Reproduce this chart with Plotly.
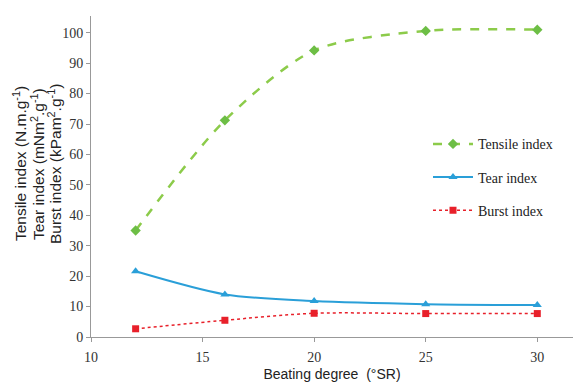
import plotly.graph_objects as go

beating = [12, 16, 20, 25, 30]
tensile = [35.0, 71.2, 94.2, 100.6, 101.0]
tear = [21.6, 14.0, 11.8, 10.8, 10.5]
burst = [2.7, 5.5, 7.8, 7.7, 7.7]
ytitle_lines = ["Tensile index (N.m.g<sup>-1</sup>)",
                "Tear index (mNm<sup>2</sup>.g<sup>-1</sup>)",
                "Burst index (kPam<sup>2</sup>.g<sup>-1</sup>)"]

fig = go.Figure()
fig.add_trace(go.Scatter(x=beating, y=tensile, name="Tensile index", mode="lines+markers", legendgroup="a",
                         line=dict(color="#8CCB4A", width=2.5, dash="dash", shape="spline", smoothing=0.8),
                         marker=dict(symbol="diamond", size=8, color="#6DBE45")))
fig.add_trace(go.Scatter(x=beating, y=tear, name="Tear index", mode="lines+markers", legendgroup="b",
                         line=dict(color="#2A9FD8", width=2, shape="spline", smoothing=0.8),
                         marker=dict(symbol="triangle-up", size=8, color="#2A9FD8")))
fig.add_trace(go.Scatter(x=beating, y=burst, name="Burst index", mode="lines+markers", legendgroup="c",
                         line=dict(color="#E8202A", width=1.5, dash="dot", shape="spline", smoothing=0.8),
                         marker=dict(symbol="square", size=7, color="#E8202A")))

W, H = 574, 382
L, R, T, B = 91, 1, 16, 43
pw, ph = W - L - R, H - T - B

fig.update_layout(
    width=W, height=H,
    margin=dict(l=L, r=R, t=T, b=B),
    paper_bgcolor="white", plot_bgcolor="white",
    font=dict(family="Liberation Serif", size=13, color="#333333"),
    legend=dict(x=(428 - L) / pw, y=1 - (129 - T) / ph, xanchor="left", yanchor="top",
                font=dict(family="Liberation Serif", size=14, color="#222222"),
                tracegroupgap=12, itemwidth=40, bgcolor="rgba(0,0,0,0)"),
    showlegend=True,
)
for xc, txt in zip([20, 38, 55], ytitle_lines):
    fig.add_annotation(text=txt, xref="paper", yref="paper", x=(xc - L) / pw, y=1 - (165 - T) / ph,
                       xanchor="center", yanchor="middle", textangle=-90, showarrow=False,
                       font=dict(family="Liberation Sans", size=15.5, color="#222222"))

fig.update_xaxes(range=[10, 31.6], tickvals=[10, 15, 20, 25, 30], showgrid=False, zeroline=False,
                 showline=True, linecolor="#999999", linewidth=1, ticks="outside", tickcolor="#999999",
                 ticklen=4, ticklabelstandoff=3, tickfont=dict(family="Liberation Serif", size=14, color="#333333"),
                 title=dict(text="Beating degree  (°SR)", standoff=6,
                            font=dict(family="Liberation Sans", size=14, color="#222222")))
fig.update_yaxes(range=[0, 105.5], tickvals=list(range(0, 101, 10)), showgrid=False, zeroline=False,
                 showline=True, linecolor="#999999", linewidth=1, ticks="outside", tickcolor="#999999",
                 ticklen=4, tickfont=dict(family="Liberation Serif", size=14, color="#333333"))

fig.write_html("out.html")
